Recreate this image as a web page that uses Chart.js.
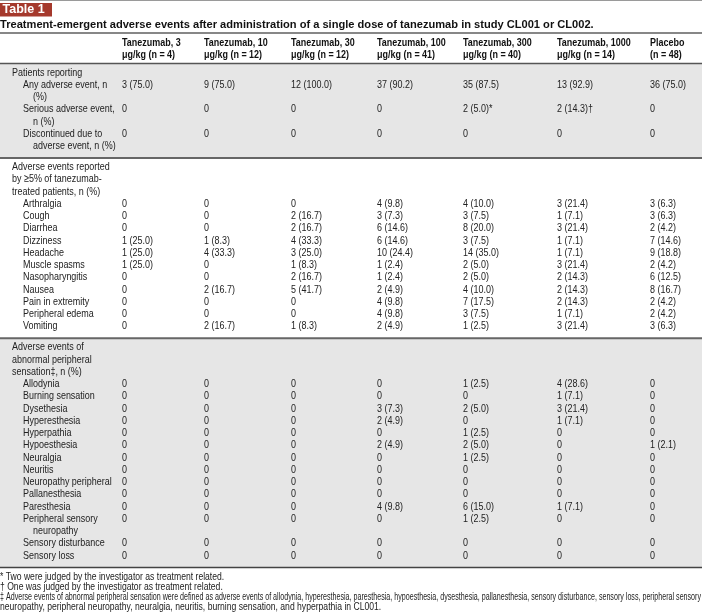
<!DOCTYPE html>
<html>
<head>
<meta charset="utf-8">
<script src="https://cdn.jsdelivr.net/npm/chart.js@4.4.1/dist/chart.umd.min.js"></script>
<style>
  html, body { margin: 0; padding: 0; background: #fff; }
  #wrap { width: 702px; height: 614px; }
</style>
</head>
<body>
<div id="wrap"><canvas id="tableChart" width="702" height="614"></canvas></div>
<script>
// ---- data ----
const tableTitle = "Treatment-emergent adverse events after administration of a single dose of tanezumab in study CL001 or CL002.";

const groupHeaders = [
  ["Tanezumab, 3", "\u03bcg/kg (n = 4)"],
  ["Tanezumab, 10", "\u03bcg/kg (n = 12)"],
  ["Tanezumab, 30", "\u03bcg/kg (n = 12)"],
  ["Tanezumab, 100", "\u03bcg/kg (n = 41)"],
  ["Tanezumab, 300", "\u03bcg/kg (n = 40)"],
  ["Tanezumab, 1000", "\u03bcg/kg (n = 14)"],
  ["Placebo", "(n = 48)"]
];

const sectionTitles = [
  ["Patients reporting"],
  ["Adverse events reported", "by \u22655% of tanezumab-", "treated patients, n (%)"],
  ["Adverse events of", "abnormal peripheral", "sensation\u2021, n (%)"]
];

const patientRows = [
  ["Any adverse event, n", "(%)"],
  ["Serious adverse event,", "n (%)"],
  ["Discontinued due to", "adverse event, n (%)"]
];

const commonAeRows = [
  ["Arthralgia"], ["Cough"], ["Diarrhea"], ["Dizziness"], ["Headache"], ["Muscle spasms"],
  ["Nasopharyngitis"], ["Nausea"], ["Pain in extremity"], ["Peripheral edema"], ["Vomiting"]
];

const sensationRows = [
  ["Allodynia"], ["Burning sensation"], ["Dysethesia"], ["Hyperesthesia"], ["Hyperpathia"],
  ["Hypoesthesia"], ["Neuralgia"], ["Neuritis"], ["Neuropathy peripheral"], ["Pallanesthesia"],
  ["Paresthesia"], ["Peripheral sensory", "neuropathy"], ["Sensory disturbance"], ["Sensory loss"]
];

// one array per column, rows in order: patientRows, commonAeRows, sensationRows
const tanezumab3 = [
  "3 (75.0)", "0", "0",
  "0", "0", "0", "1 (25.0)", "1 (25.0)", "1 (25.0)", "0", "0", "0", "0", "0",
  "0", "0", "0", "0", "0", "0", "0", "0", "0", "0", "0", "0", "0", "0"
];
const tanezumab10 = [
  "9 (75.0)", "0", "0",
  "0", "0", "0", "1 (8.3)", "4 (33.3)", "0", "0", "2 (16.7)", "0", "0", "2 (16.7)",
  "0", "0", "0", "0", "0", "0", "0", "0", "0", "0", "0", "0", "0", "0"
];
const tanezumab30 = [
  "12 (100.0)", "0", "0",
  "0", "2 (16.7)", "2 (16.7)", "4 (33.3)", "3 (25.0)", "1 (8.3)", "2 (16.7)", "5 (41.7)", "0", "0", "1 (8.3)",
  "0", "0", "0", "0", "0", "0", "0", "0", "0", "0", "0", "0", "0", "0"
];
const tanezumab100 = [
  "37 (90.2)", "0", "0",
  "4 (9.8)", "3 (7.3)", "6 (14.6)", "6 (14.6)", "10 (24.4)", "1 (2.4)", "1 (2.4)", "2 (4.9)", "4 (9.8)", "4 (9.8)", "2 (4.9)",
  "0", "0", "3 (7.3)", "2 (4.9)", "0", "2 (4.9)", "0", "0", "0", "0", "4 (9.8)", "0", "0", "0"
];
const tanezumab300 = [
  "35 (87.5)", "2 (5.0)*", "0",
  "4 (10.0)", "3 (7.5)", "8 (20.0)", "3 (7.5)", "14 (35.0)", "2 (5.0)", "2 (5.0)", "4 (10.0)", "7 (17.5)", "3 (7.5)", "1 (2.5)",
  "1 (2.5)", "0", "2 (5.0)", "0", "1 (2.5)", "2 (5.0)", "1 (2.5)", "0", "0", "0", "6 (15.0)", "1 (2.5)", "0", "0"
];
const tanezumab1000 = [
  "13 (92.9)", "2 (14.3)\u2020", "0",
  "3 (21.4)", "1 (7.1)", "3 (21.4)", "1 (7.1)", "1 (7.1)", "3 (21.4)", "2 (14.3)", "2 (14.3)", "2 (14.3)", "1 (7.1)", "3 (21.4)",
  "4 (28.6)", "1 (7.1)", "3 (21.4)", "1 (7.1)", "0", "0", "0", "0", "0", "0", "1 (7.1)", "0", "0", "0"
];
const placebo = [
  "36 (75.0)", "0", "0",
  "3 (6.3)", "3 (6.3)", "2 (4.2)", "7 (14.6)", "9 (18.8)", "2 (4.2)", "6 (12.5)", "8 (16.7)", "2 (4.2)", "2 (4.2)", "3 (6.3)",
  "0", "0", "0", "0", "0", "1 (2.1)", "0", "0", "0", "0", "0", "0", "0", "0"
];

const footnotes = [
  "* Two were judged by the investigator as treatment related.",
  "\u2020 One was judged by the investigator as treatment related.",
  "\u2021 Adverse events of abnormal peripheral sensation were defined as adverse events of allodynia, hyperesthesia, paresthesia, hypoesthesia, dysesthesia, pallanesthesia, sensory disturbance, sensory loss, peripheral sensory",
  "neuropathy, peripheral neuropathy, neuralgia, neuritis, burning sensation, and hyperpathia in CL001."
];

// ---- layout (positions/styles, not data) ----
const columns = [tanezumab3, tanezumab10, tanezumab30, tanezumab100, tanezumab300, tanezumab1000, placebo];
const colX = [122, 204, 291, 377, 463, 557, 650];
const LABEL_X = 12, INDENT_X = 23, CONT_X = 33;
const LINE = 12.25, PAD_TOP = 9, PAD_BOTTOM = 12;
const HEAD_RULE = 63.5;
const shaded = [true, false, true];
const SANS = '"Liberation Sans", Arial, sans-serif';
const BODY_PX = 11.5;
const NARROW = 0.78; // horizontal squeeze to mimic a condensed face

// work out the row positions from the line counts
const sections = [
  { title: sectionTitles[0], rows: patientRows },
  { title: sectionTitles[1], rows: commonAeRows },
  { title: sectionTitles[2], rows: sensationRows }
];
const rowY = [];
const rowLabelsFlat = [];
let cursor = HEAD_RULE;
sections.forEach(s => {
  s.top = cursor;
  let y = cursor + PAD_TOP;
  s.titleY = y;
  y += LINE * s.title.length;
  s.rows.forEach(lines => {
    rowY.push(y);
    rowLabelsFlat.push(lines);
    y += LINE * lines.length;
  });
  s.bottom = y - LINE + PAD_BOTTOM;
  cursor = s.bottom;
});
const footY = cursor + 10;

const datasets = columns.map((col, j) => ({
  label: groupHeaders[j].join(" "),
  data: col.map((v, i) => ({ x: colX[j], y: rowY[i], text: v })),
  pointRadius: 0,
  showLine: false
}));

// condensed text helper
function narrowText(ctx, t, px, py, squeeze, maxW) {
  ctx.save();
  ctx.translate(px, py);
  ctx.scale(squeeze, 1);
  if (maxW) ctx.fillText(t, 0, 0, maxW / squeeze);
  else ctx.fillText(t, 0, 0);
  ctx.restore();
}

const tablePlugin = {
  id: "tablePlugin",
  beforeDatasetsDraw(chart) {
    const { ctx, scales: { x, y } } = chart;
    const left = x.getPixelForValue(0), right = x.getPixelForValue(702);
    ctx.save();
    // shaded sections
    sections.forEach((s, si) => {
      if (!shaded[si]) return;
      ctx.fillStyle = "#e6e6e6";
      const t = y.getPixelForValue(s.top), b = y.getPixelForValue(s.bottom);
      ctx.fillRect(left, t, right - left, b - t);
    });
    const rule = (v, w, c) => {
      ctx.strokeStyle = c; ctx.lineWidth = w;
      ctx.beginPath();
      ctx.moveTo(left, y.getPixelForValue(v));
      ctx.lineTo(right, y.getPixelForValue(v));
      ctx.stroke();
    };
    rule(0.5, 1, "#9a9a9a");
    rule(33, 1.2, "#111");
    rule(HEAD_RULE, 1.5, "#555");
    sections.forEach((s, si) => {
      rule(s.bottom, si === sections.length - 1 ? 1.5 : 2, si === sections.length - 1 ? "#444" : "#666");
    });

    // "Table 1" tag
    ctx.fillStyle = "#a5392c";
    ctx.fillRect(left, y.getPixelForValue(3), x.getPixelForValue(52) - left, y.getPixelForValue(16.5) - y.getPixelForValue(3));
    ctx.fillStyle = "#fff";
    ctx.font = "bold 12.5px " + SANS;
    ctx.textBaseline = "middle";
    ctx.textAlign = "left";
    ctx.fillText("Table 1", x.getPixelForValue(2.5), y.getPixelForValue(10));

    // caption
    ctx.fillStyle = "#111";
    ctx.font = "bold 11.1px " + SANS;
    ctx.fillText(tableTitle, left, y.getPixelForValue(25));

    // column headers
    ctx.font = "bold " + BODY_PX + "px " + SANS;
    groupHeaders.forEach((lines, j) => {
      lines.forEach((t, k) => narrowText(ctx, t, x.getPixelForValue(colX[j]), y.getPixelForValue(43 + k * LINE), NARROW));
    });

    // section titles and row labels
    ctx.font = BODY_PX + "px " + SANS;
    ctx.fillStyle = "#222";
    sections.forEach(s => {
      s.title.forEach((t, k) => narrowText(ctx, t, x.getPixelForValue(LABEL_X), y.getPixelForValue(s.titleY + k * LINE), NARROW));
    });
    rowLabelsFlat.forEach((lines, i) => {
      lines.forEach((t, k) => narrowText(ctx, t, x.getPixelForValue(k === 0 ? INDENT_X : CONT_X), y.getPixelForValue(rowY[i] + k * LINE), NARROW));
    });

    // footnotes
    ctx.font = "10px " + SANS;
    footnotes.forEach((t, k) => narrowText(ctx, t, left, y.getPixelForValue(footY + k * 10), 0.86, right - left - 1));
    ctx.restore();
  },
  afterDatasetsDraw(chart) {
    const { ctx } = chart;
    ctx.save();
    ctx.font = BODY_PX + "px " + SANS;
    ctx.fillStyle = "#222";
    ctx.textBaseline = "middle";
    ctx.textAlign = "left";
    chart.data.datasets.forEach((ds, j) => {
      const meta = chart.getDatasetMeta(j);
      meta.data.forEach((pt, i) => narrowText(ctx, ds.data[i].text, pt.x, pt.y, NARROW));
    });
    ctx.restore();
  }
};

new Chart(document.getElementById("tableChart"), {
  type: "scatter",
  data: { datasets },
  options: {
    responsive: false,
    animation: false,
    layout: { padding: 0 },
    plugins: { legend: { display: false }, tooltip: { enabled: false }, title: { display: false } },
    scales: {
      x: { type: "linear", min: 0, max: 702, display: false },
      y: { type: "linear", min: 0, max: 614, reverse: true, display: false }
    }
  },
  plugins: [tablePlugin]
});
</script>
</body>
</html>
